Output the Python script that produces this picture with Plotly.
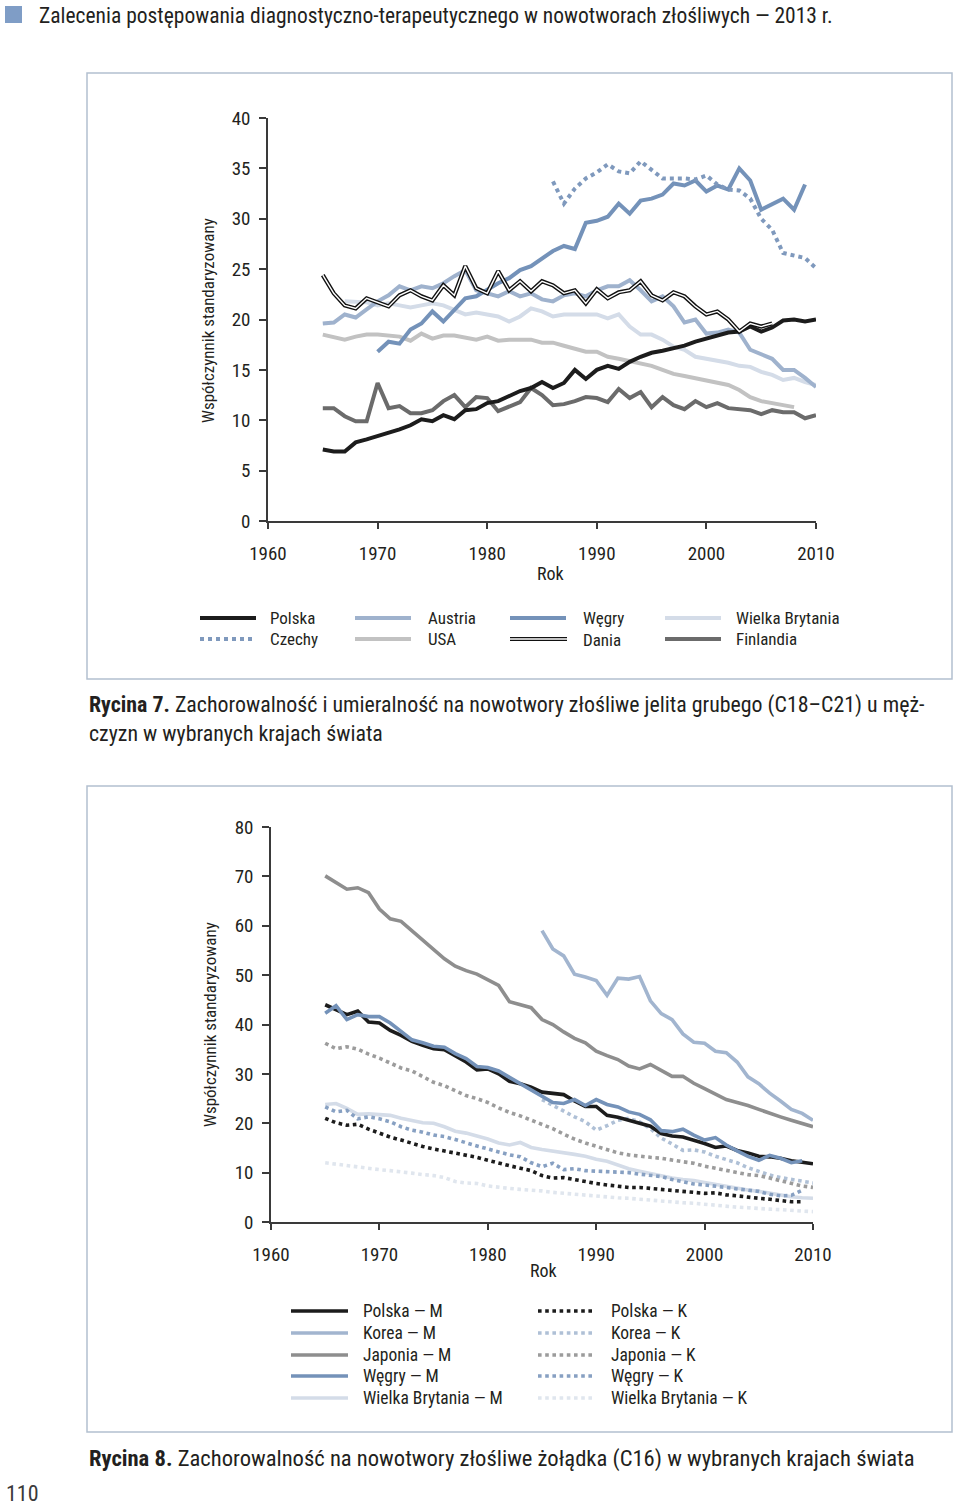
import plotly.graph_objects as go

W, H = 960, 1509

# ---------------- data: chart 1 (Rycina 7) ----------------
c1_polska_start = 1965
c1_polska = [7.1, 6.9, 6.9, 7.8, 8.1, 8.4, 8.7, 9.1, 9.5, 10.1,
             9.9, 10.5, 10.1, 11.0, 11.1, 11.7, 11.9, 12.4, 12.9, 13.2,
             13.8, 13.2, 13.7, 15.0, 14.1, 15.0, 15.4, 15.1, 15.8, 16.3,
             16.7, 16.9, 17.1, 17.4, 17.8, 18.1, 18.5, 18.7, 18.8, 19.3,
             18.8, 19.2, 19.9, 20.0, 19.8, 20.0]
c1_czechy_start = 1986
c1_czechy = [33.7, 31.5, 33.0, 34.0, 34.6, 35.4, 34.7, 34.5, 35.7, 34.8,
             34.0, 34.0, 34.0, 33.9, 34.3, 33.4, 32.9, 32.8, 32.0, 30.0,
             28.9, 26.6, 26.4, 26.1, 25.1]
c1_austria_start = 1965
c1_austria = [19.6, 19.7, 20.5, 20.2, 21.0, 21.8, 22.4, 23.3, 22.9, 23.3,
              23.1, 23.6, 24.3, 24.9, 22.9, 22.6, 22.3, 22.8, 22.3, 22.6,
              22.0, 21.8, 22.4, 22.6, 22.3, 22.9, 23.3, 23.3, 23.9, 22.9,
              21.8, 22.3, 21.3, 19.7, 20.0, 18.6, 18.7, 19.0, 18.7, 17.0,
              16.5, 16.1, 15.0, 15.0, 14.2, 13.3]
c1_usa_start = 1965
c1_usa = [18.5, 18.3, 18.0, 18.3, 18.5, 18.5, 18.4, 18.3, 17.9, 18.6,
          18.1, 18.4, 18.4, 18.2, 18.0, 18.3, 17.9, 18.0, 18.0, 18.0,
          17.7, 17.7, 17.4, 17.1, 16.8, 16.8, 16.3, 16.1, 15.9, 15.6,
          15.4, 15.0, 14.6, 14.4, 14.2, 14.0, 13.8, 13.5, 13.0, 12.3,
          11.9, 11.7, 11.5, 11.3]
c1_wegry_start = 1970
c1_wegry = [16.8, 17.8, 17.6, 19.0, 19.6, 20.8, 19.8, 21.0, 22.1, 22.3,
            23.0, 23.6, 24.1, 24.9, 25.3, 26.0, 26.8, 27.3, 27.0, 29.6,
            29.8, 30.2, 31.5, 30.5, 31.8, 32.0, 32.4, 33.5, 33.3, 33.8,
            32.7, 33.3, 32.9, 35.0, 33.8, 30.9, 31.5, 32.0, 30.9, 33.4]
c1_dania_start = 1965
c1_dania = [24.4, 22.6, 21.4, 21.1, 22.1, 21.7, 21.3, 22.4, 22.9, 22.3,
            21.9, 23.4, 22.4, 25.3, 23.1, 22.6, 24.8, 22.9, 23.8, 22.8,
            23.8, 23.4, 22.6, 22.9, 21.6, 23.0, 22.1, 22.7, 22.9, 23.8,
            22.4, 21.9, 22.7, 22.3, 21.3, 20.5, 20.8, 20.0, 18.8, 19.6,
            19.3, 19.6]
c1_wb_start = 1967
c1_wb = [21.8, 21.8, 21.7, 21.4, 21.6, 21.4, 21.2, 21.4, 21.6, 21.4,
         21.0, 20.5, 20.7, 20.5, 20.3, 19.8, 20.3, 21.1, 20.8, 20.3,
         20.5, 20.5, 20.5, 20.5, 20.1, 20.5, 19.3, 18.5, 18.5, 18.0,
         17.3, 17.0, 16.3, 16.1, 15.9, 15.7, 15.4, 15.3, 14.8, 14.5,
         14.0, 14.2, 13.8, 13.5]
c1_finlandia_start = 1965
c1_finlandia = [11.2, 11.2, 10.4, 9.9, 9.9, 13.7, 11.2, 11.4, 10.7, 10.7,
                11.0, 11.9, 12.5, 11.3, 12.3, 12.2, 10.9, 11.3, 11.8, 13.2,
                12.5, 11.5, 11.6, 11.9, 12.3, 12.2, 11.8, 13.1, 12.2, 12.8,
                11.3, 12.3, 11.5, 11.1, 11.9, 11.3, 11.7, 11.2, 11.1, 11.0,
                10.6, 11.0, 10.8, 10.8, 10.2, 10.5]

# ---------------- data: chart 2 (Rycina 8) ----------------
c2_polska_m_start = 1965
c2_polska_m = [44.0, 43.0, 42.0, 42.7, 40.5, 40.3, 38.8, 37.8, 36.6, 35.8,
               35.1, 34.9, 33.7, 32.4, 30.8, 31.0, 30.0, 28.5, 28.0, 27.3,
               26.3, 26.1, 25.8, 24.5, 23.4, 23.4, 21.6, 21.2, 20.6, 20.1,
               19.4, 17.9, 17.4, 17.2, 16.6, 15.9, 15.1, 15.4, 14.5, 14.0,
               13.3, 13.2, 12.9, 12.4, 12.1, 11.8]
c2_korea_m_start = 1985
c2_korea_m = [59.0, 55.3, 53.9, 50.2, 49.6, 48.9, 45.9, 49.4, 49.2, 49.7,
              44.8, 42.2, 41.0, 38.1, 36.4, 36.2, 34.6, 34.3, 32.4, 29.4,
              28.0, 26.1, 24.5, 22.8, 22.0, 20.6]
c2_japonia_m_start = 1965
c2_japonia_m = [70.1, 68.7, 67.4, 67.7, 66.7, 63.4, 61.4, 60.9, 59.0, 57.1,
                55.2, 53.3, 51.8, 50.9, 50.2, 49.0, 47.9, 44.6, 44.0, 43.4,
                41.0, 40.0, 38.5, 37.2, 36.3, 34.6, 33.7, 32.9, 31.6, 31.0,
                31.9, 30.7, 29.5, 29.5, 28.1, 27.0, 25.9, 24.8, 24.2, 23.6,
                22.8, 22.0, 21.3, 20.6, 19.9, 19.3]
c2_wegry_m_start = 1965
c2_wegry_m = [42.3, 43.8, 41.0, 42.0, 41.6, 41.6, 40.3, 38.5, 36.9, 36.3,
              35.6, 35.4, 34.1, 33.1, 31.5, 31.3, 30.6, 29.3, 28.0, 26.8,
              25.6, 24.2, 24.0, 24.8, 23.6, 24.8, 23.8, 23.3, 22.3, 21.8,
              20.7, 18.5, 18.3, 18.8, 17.6, 16.6, 17.1, 15.6, 14.4, 13.3,
              12.5, 13.5, 12.9, 12.0, 12.4]
c2_wb_m_start = 1965
c2_wb_m = [23.8, 24.0, 23.0, 21.8, 21.9, 21.8, 21.6, 21.0, 20.5, 20.1,
           20.0, 19.3, 18.4, 18.0, 17.4, 16.8, 16.0, 15.6, 16.1, 15.1,
           14.7, 14.4, 14.1, 13.7, 13.3, 12.7, 12.3, 11.6, 10.8, 10.3,
           9.8, 9.4, 8.9, 8.6, 8.4, 8.0, 7.6, 7.2, 6.8, 6.5,
           6.2, 5.8, 5.4, 5.1, 4.9, 4.8]
c2_polska_k_start = 1965
c2_polska_k = [21.0, 20.1, 19.6, 19.8, 18.8, 18.0, 17.2, 16.6, 15.9, 15.3,
               14.8, 14.4, 14.0, 13.6, 13.1, 12.5, 11.9, 11.4, 10.9, 10.4,
               9.4, 8.9, 9.0, 8.6, 8.1, 7.8, 7.5, 7.2, 7.0, 7.0,
               6.8, 6.6, 6.5, 6.3, 6.1, 5.8, 5.9, 5.5, 5.3, 5.0,
               4.8, 4.6, 4.4, 4.1, 4.1]
c2_korea_k_start = 1985
c2_korea_k = [24.8, 23.6, 22.6, 21.3, 20.3, 18.6, 19.5, 20.6, 21.0, 20.3,
              18.9, 17.0, 15.8, 14.5, 14.6, 14.2, 13.3, 12.6, 12.0, 11.0,
              10.2, 9.5, 9.0, 8.6, 8.2, 7.9]
c2_japonia_k_start = 1965
c2_japonia_k = [36.2, 35.1, 35.5, 35.0, 34.0, 33.2, 32.2, 31.2, 30.6, 29.5,
                28.3, 27.6, 26.5, 25.6, 25.0, 24.2, 23.1, 22.2, 21.5, 20.6,
                19.8, 18.9, 17.8, 16.8, 16.0, 15.3, 14.7, 14.0, 13.6, 13.3,
                13.1, 12.9, 12.5, 12.2, 11.9, 11.3, 10.9, 10.4, 10.0, 9.6,
                9.4, 8.9, 8.4, 7.8, 7.3, 7.0]
c2_wegry_k_start = 1965
c2_wegry_k = [23.3, 22.3, 22.6, 20.9, 21.3, 20.9, 20.3, 19.3, 18.6, 18.2,
              17.6, 17.3, 16.7, 16.0, 15.4, 14.8, 14.2, 13.6, 13.2, 12.0,
              11.2, 11.9, 10.6, 10.8, 10.4, 10.3, 10.2, 10.1, 10.0, 9.7,
              9.4, 9.2, 8.6, 8.1, 7.7, 7.5, 7.3, 7.0, 6.7, 6.5,
              6.2, 5.6, 5.3, 5.4, 6.4]
c2_wb_k_start = 1965
c2_wb_k = [12.0, 11.7, 11.4, 11.1, 10.9, 10.6, 10.4, 10.2, 9.9, 9.6,
           9.4, 9.0, 8.2, 7.9, 7.8, 7.3, 7.0, 6.8, 6.6, 6.5,
           6.3, 6.0, 5.8, 5.6, 5.5, 5.3, 5.1, 4.9, 4.8, 4.6,
           4.4, 4.2, 4.1, 3.9, 3.8, 3.6, 3.3, 3.2, 3.0, 2.9,
           2.7, 2.6, 2.5, 2.3, 2.2, 2.1]

x_ticks = [1960, 1970, 1980, 1990, 2000, 2010]
c1_y_ticks = [0, 5, 10, 15, 20, 25, 30, 35, 40]
c2_y_ticks = [0, 10, 20, 30, 40, 50, 60, 70, 80]

# ---------------- styling ----------------
FONT = "Liberation Sans Narrow, Roboto Condensed, Arial Narrow, Liberation Sans, sans-serif"
TXT = "#231f20"
BLACK = "#1c1c1c"
C_AUSTRIA = "#9fb2cd"
C_USA = "#c2c2c2"
C_WEGRY = "#7492b9"
C_WB = "#d4dce8"
C_FIN = "#6b6b6b"
C_CZ = "#7f99bd"
C_KOREA = "#a2b5cf"
C_JAP = "#8e8e8e"
C_KOREA_K = "#afc0d6"
C_JAP_K = "#9c9c9c"
C_WEGRY_K = "#87a0c2"
C_WB_K = "#e0e6ee"
FRAME = "#b3c0d0"


def px(x):
    return x / W


def py(y):
    return 1 - y / H


def yrs(start, vals):
    return list(range(start, start + len(vals)))


fig = go.Figure()


def add(xa, ya, start, vals, color, width, dash="solid"):
    fig.add_trace(go.Scatter(x=yrs(start, vals), y=vals, xaxis=xa, yaxis=ya,
                             mode="lines", line=dict(color=color, width=width, dash=dash),
                             hoverinfo="skip", showlegend=False))


# chart 1 traces
LW1 = 4
add("x", "y", c1_usa_start, c1_usa, C_USA, LW1)
add("x", "y", c1_wb_start, c1_wb, C_WB, LW1)
add("x", "y", c1_finlandia_start, c1_finlandia, C_FIN, LW1)
add("x", "y", c1_austria_start, c1_austria, C_AUSTRIA, LW1)
add("x", "y", c1_wegry_start, c1_wegry, C_WEGRY, LW1)
add("x", "y", c1_czechy_start, c1_czechy, C_CZ, LW1, "dot")
add("x", "y", c1_polska_start, c1_polska, BLACK, LW1)
add("x", "y", c1_dania_start, c1_dania, "#111111", 4.2)
add("x", "y", c1_dania_start, c1_dania, "#ffffff", 1.4)

# chart 2 traces
LW2 = 3.6
add("x2", "y2", c2_wb_k_start, c2_wb_k, C_WB_K, LW2, "dot")
add("x2", "y2", c2_wb_m_start, c2_wb_m, C_WB, LW2)
add("x2", "y2", c2_korea_k_start, c2_korea_k, C_KOREA_K, LW2, "dot")
add("x2", "y2", c2_wegry_k_start, c2_wegry_k, C_WEGRY_K, LW2, "dot")
add("x2", "y2", c2_japonia_k_start, c2_japonia_k, C_JAP_K, LW2, "dot")
add("x2", "y2", c2_polska_k_start, c2_polska_k, BLACK, LW2, "dot")
add("x2", "y2", c2_japonia_m_start, c2_japonia_m, C_JAP, LW2)
add("x2", "y2", c2_korea_m_start, c2_korea_m, C_KOREA, LW2)
add("x2", "y2", c2_polska_m_start, c2_polska_m, BLACK, LW2)
add("x2", "y2", c2_wegry_m_start, c2_wegry_m, C_WEGRY, LW2)

axis_common = dict(showgrid=False, zeroline=False, showline=True, linecolor="#3a3a3a",
                   linewidth=1.5, ticks="outside", tickcolor="#3a3a3a", tickwidth=1.5,
                   automargin=False,
                   tickfont=dict(family=FONT, size=19, color=TXT))

fig.update_layout(
    template="none",
    width=W, height=H, margin=dict(l=0, r=0, t=0, b=0, pad=0, autoexpand=False),
    paper_bgcolor="white", plot_bgcolor="rgba(0,0,0,0)", showlegend=False,
    xaxis=dict(domain=[px(268), px(816)], range=[1960, 2010], tickvals=x_ticks,
               ticklen=6, ticklabelstandoff=8, anchor="y", **axis_common),
    yaxis=dict(domain=[py(521), py(118)], range=[0, 40], tickvals=c1_y_ticks,
               ticklen=7, ticklabelstandoff=5, anchor="x", **axis_common),
    xaxis2=dict(domain=[px(271), px(813)], range=[1960, 2010], tickvals=x_ticks,
                ticklen=6, ticklabelstandoff=8, anchor="y2", **axis_common),
    yaxis2=dict(domain=[py(1222), py(827)], range=[0, 80], tickvals=c2_y_ticks,
                ticklen=7, ticklabelstandoff=5, anchor="x2", **axis_common),
)

shapes = []
annotations = []

# frames
shapes.append(dict(type="rect", xref="paper", yref="paper", x0=px(87), x1=px(952),
                   y0=py(679), y1=py(73), line=dict(color=FRAME, width=1.5)))
shapes.append(dict(type="rect", xref="paper", yref="paper", x0=px(87), x1=px(952),
                   y0=py(1432), y1=py(786), line=dict(color=FRAME, width=1.5)))
# header square
shapes.append(dict(type="rect", xref="paper", yref="paper", x0=px(5), x1=px(22),
                   y0=py(23), y1=py(6), line=dict(width=0), fillcolor="#7f9dc6"))


def text(x, y, s, size=18, anchor="left", angle=0, color=TXT, yanchor="middle"):
    annotations.append(dict(x=px(x), y=py(y), xref="paper", yref="paper", text=s,
                            showarrow=False, xanchor=anchor, yanchor=yanchor,
                            textangle=angle, font=dict(family=FONT, size=size, color=color)))


text(37, 15, "Zalecenia postępowania diagnostyczno-terapeutycznego w nowotworach złośliwych — 2013 r.", 21.5)
text(208, 321, "Współczynnik standaryzowany", 17, "center", -90)
text(550, 573, "Rok", 18, "center")
text(210, 1025, "Współczynnik standaryzowany", 17, "center", -90)
text(543, 1270, "Rok", 18, "center")
text(87, 705, "<b>Rycina 7.</b> Zachorowalność i umieralność na nowotwory złośliwe jelita grubego (C18–C21) u męż-", 21.9)
text(87, 733, "czyzn w wybranych krajach świata", 21.9)
text(87, 1458, "<b>Rycina 8.</b> Zachorowalność na nowotwory złośliwe żołądka (C16) w wybranych krajach świata", 22.6)
text(4, 1508, "110", 22, color="#3a3a3a", yanchor="bottom")


def leg_line(x0, x1, y, color, width, dash="solid"):
    shapes.append(dict(type="line", xref="paper", yref="paper", x0=px(x0), x1=px(x1),
                       y0=py(y), y1=py(y), line=dict(color=color, width=width, dash=dash)))


# legend chart 1
l1 = [
    (200, 268, 618, "Polska", BLACK, "solid"),
    (200, 268, 639, "Czechy", C_CZ, "dot"),
    (355, 426, 618, "Austria", C_AUSTRIA, "solid"),
    (355, 426, 639, "USA", C_USA, "solid"),
    (510, 581, 618, "Węgry", C_WEGRY, "solid"),
    (665, 734, 618, "Wielka Brytania", C_WB, "solid"),
    (665, 734, 639, "Finlandia", C_FIN, "solid"),
]
for x0, tx, y, name, col, dash in l1:
    leg_line(x0, x0 + 56, y, col, 4, dash)
    text(tx, y, name, 17)
leg_line(510, 567, 639, "#111111", 4.2)
leg_line(510, 567, 639, "#ffffff", 1.4)
text(581, 640, "Dania", 17)

# legend chart 2
l2 = [
    ("Polska — M", BLACK, "Polska — K", BLACK),
    ("Korea — M", C_KOREA, "Korea — K", C_KOREA_K),
    ("Japonia — M", C_JAP, "Japonia — K", C_JAP_K),
    ("Węgry — M", C_WEGRY, "Węgry — K", C_WEGRY_K),
    ("Wielka Brytania — M", C_WB, "Wielka Brytania — K", C_WB_K),
]
rows2 = [1311, 1333, 1355, 1376, 1398]
for (nm, cm, nk, ck), y in zip(l2, rows2):
    leg_line(291, 348, y, cm, 3.6)
    text(361, y, nm, 17.5)
    leg_line(538, 594, y, ck, 3.6, "dot")
    text(609, y, nk, 17.5)

fig.update_layout(shapes=shapes, annotations=annotations)

fig.write_html("out.html", config={"displayModeBar": False},
               post_script="document.body.style.margin='0';")
